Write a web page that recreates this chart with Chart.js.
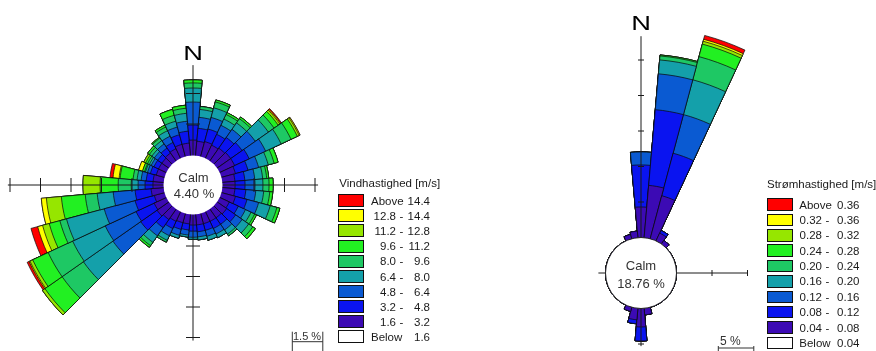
<!DOCTYPE html>
<html>
<head>
<meta charset="utf-8">
<script src="https://cdn.jsdelivr.net/npm/chart.js@4/dist/chart.umd.min.js"></script>
<style>
  html, body { margin: 0; padding: 0; background: #fff; }
  body { width: 876px; height: 351px; overflow: hidden; position: relative;
         font-family: 'Liberation Sans', Arial, sans-serif; }
  canvas { position: absolute; }
  #labels { position: absolute; left: 0; top: 0; width: 876px; height: 351px; }
  .t { position: absolute; white-space: pre; line-height: 1; }
  .box { position: absolute; box-sizing: border-box; border: 1px solid #111; }
</style>
</head>
<body>
<canvas id="wind" width="400" height="400" style="left:-7px;top:-15px"></canvas>
<canvas id="current" width="520" height="520" style="left:381px;top:13px"></canvas>
<div id="labels"></div>
<script>
// Direction sectors (degrees, clockwise from north), 10° each
const directions = [0, 10, 20, 30, 40, 50, 60, 70, 80, 90, 100, 110, 120, 130, 140, 150, 160, 170,
                    180, 190, 200, 210, 220, 230, 240, 250, 260, 270, 280, 290, 300, 310, 320, 330, 340, 350];

// Wind speed (m/s): class limits and frequency (%) per direction for each class
const windCalm = 4.40;
const windLimits = [1.6, 3.2, 4.8, 6.4, 8.0, 9.6, 11.2, 12.8, 14.4];
const wind_16_32 = [0.71,0.66,0.71,0.66,0.71,0.76,0.76,0.66,0.57,0.57,0.57,0.66,0.47,0.52,0.47,0.47,0.47,0.47,
                    0.47,0.42,0.42,0.47,0.57,0.66,0.61,0.47,0.57,0.47,0.47,0.37,0.37,0.37,0.42,0.47,0.57,0.57];
const wind_32_48 = [0.74,0.64,0.64,0.59,0.64,0.69,0.79,0.64,0.49,0.49,0.54,0.59,0.49,0.54,0.39,0.39,0.34,0.34,
                    0.30,0.30,0.34,0.39,0.49,0.98,0.98,0.98,0.79,0.39,0.34,0.30,0.25,0.25,0.30,0.34,0.49,0.59];
const wind_48_64 = [1.13,0.54,0.59,0.49,0.49,0.79,0.89,0.54,0.49,0.49,0.49,0.59,0.39,0.39,0.34,0.30,0.30,0.25,
                    0.30,0.25,0.30,0.39,0.49,1.67,1.67,1.57,1.08,0.34,0.25,0.15,0.15,0.20,0.25,0.34,0.39,0.49];
const wind_64_80 = [0.69,0.39,0.49,0.34,0.39,0.79,0.84,0.49,0.39,0.39,0.39,0.59,0.30,0.39,0.25,0.20,0.20,0.15,
                    0.10,0.10,0.15,0.25,0.39,1.77,1.77,1.92,0.79,0.34,0.20,0.10,0.10,0.15,0.20,0.30,0.30,0.39];
const wind_80_96 = [0.25,0.15,0.30,0.25,0.25,0.34,0.54,0.30,0.20,0.30,0.30,0.34,0.20,0.25,0.10,0,0,0,
                    0,0,0,0.10,0.20,1.28,1.33,0.34,0.59,0.64,0.20,0.05,0.10,0.15,0.15,0.20,0.30,0.25];
const wind_96_112 = [0.15,0,0.10,0.10,0.10,0.25,0.34,0.20,0.10,0.20,0.15,0.15,0.10,0.15,0,0,0,0,
                     0,0,0,0,0.10,1.03,0.84,0.54,1.18,0.89,0.64,0.10,0.10,0.10,0.05,0.10,0.30,0.15];
const wind_112_128 = [0,0,0,0,0,0.10,0.10,0,0,0,0,0,0,0,0,0,0,0,
                      0,0,0,0,0,0.15,0.15,0.34,0.74,0.84,0.05,0,0.10,0,0,0,0,0];
const wind_128_144 = [0,0,0,0,0,0.05,0.05,0,0,0,0,0,0,0,0,0,0,0,
                      0,0,0,0,0,0,0.05,0.25,0.25,0,0.30,0.20,0,0,0,0,0,0];
const wind_above_144 = [0,0,0,0,0,0.05,0,0,0,0,0,0,0,0,0,0,0,0,
                        0,0,0,0,0,0,0.10,0.34,0,0,0.15,0,0,0,0,0,0,0];

// Current speed (m/s): class limits and frequency (%) per direction for each class
const currentCalm = 18.76;
const currentLimits = [0.04, 0.08, 0.12, 0.16, 0.20, 0.24, 0.28, 0.32, 0.36];
const cur_004_008 = [4.30,7.39,6.27,1.20,0.60,0,0,0,0,0,0,0,0,0,0,0,0,0.92,
                     2.60,1.62,0.60,0,0,0,0,0,0,0,0,0,0,0,0,0,0.63,0.92];
const cur_008_012 = [5.92,10.70,6.20,0.42,0,0,0,0,0,0,0,0,0,0,0,0,0,0,
                     1.97,0.56,0,0,0,0,0,0,0,0,0,0,0,0,0,0,0,0];
const cur_012_016 = [1.83,5.07,5.63,0,0,0,0,0,0,0,0,0,0,0,0,0,0,0,
                     0,0,0,0,0,0,0,0,0,0,0,0,0,0,0,0,0,0];
const cur_016_020 = [0,1.97,5.07,0,0,0,0,0,0,0,0,0,0,0,0,0,0,0,
                     0,0,0,0,0,0,0,0,0,0,0,0,0,0,0,0,0,0];
const cur_020_024 = [0,0.56,3.38,0,0,0,0,0,0,0,0,0,0,0,0,0,0,0,
                     0,0,0,0,0,0,0,0,0,0,0,0,0,0,0,0,0,0];
const cur_024_028 = [0,0.14,1.83,0,0,0,0,0,0,0,0,0,0,0,0,0,0,0,
                     0,0,0,0,0,0,0,0,0,0,0,0,0,0,0,0,0,0];
const cur_028_032 = [0,0,0.42,0,0,0,0,0,0,0,0,0,0,0,0,0,0,0,
                     0,0,0,0,0,0,0,0,0,0,0,0,0,0,0,0,0,0];
const cur_032_036 = [0,0,0.28,0,0,0,0,0,0,0,0,0,0,0,0,0,0,0,
                     0,0,0,0,0,0,0,0,0,0,0,0,0,0,0,0,0,0];
const cur_above_036 = [0,0,0.56,0,0,0,0,0,0,0,0,0,0,0,0,0,0,0,
                       0,0,0,0,0,0,0,0,0,0,0,0,0,0,0,0,0,0];

// Colour per speed class, lowest ("Below") first
const classColours = ['#ffffff', '#3c0ab4', '#0a14f0', '#0a5ad2', '#14a0aa',
                      '#1ec864', '#22f022', '#96e600', '#ffff00', '#ff0000'];

const windSeries = [wind_16_32, wind_32_48, wind_48_64, wind_64_80, wind_80_96,
                    wind_96_112, wind_112_128, wind_128_144, wind_above_144];
const currentSeries = [cur_004_008, cur_008_012, cur_012_016, cur_016_020, cur_020_024,
                       cur_024_028, cur_028_032, cur_032_036, cur_above_036];

// Stack the classes: each dataset is the running total up to its class.
// Dataset 0 (innermost) is painted last, so the rings show as stacked bands.
function stackedDatasets(series) {
  let run = directions.map(() => 0);
  return series.map((s, c) => {
    run = run.map((v, i) => v + s[i]);
    return { data: run.slice(), backgroundColor: classColours[c + 1] };
  });
}

// Cross axes with tick marks, the calm circle and the scale bar
const roseDecor = {
  id: 'roseDecor',
  afterDatasetsDraw(chart, args, o) {
    const s = chart.scales.r, ctx = chart.ctx;
    const cx = s.xCenter, cy = s.yCenter;
    const dist = t => s.getDistanceFromCenterForValue(t * o.step - o.step);
    ctx.save();
    ctx.strokeStyle = '#1a1a1a';
    ctx.lineWidth = 1;
    const arms = [
      { dx: 0, dy: -1, ext: o.north, ticks: o.northTicks },
      { dx: 1, dy: 0, ext: o.east, ticks: o.eastTicks },
      { dx: 0, dy: 1, ext: o.south, ticks: o.southTicks },
      { dx: -1, dy: 0, ext: o.west, ticks: o.westTicks }
    ];
    arms.forEach(a => {
      const r = dist(a.ext);
      ctx.beginPath();
      ctx.moveTo(cx, cy);
      ctx.lineTo(cx + a.dx * r, cy + a.dy * r);
      ctx.stroke();
      a.ticks.forEach(t => {
        const d = dist(t);
        const px = cx + a.dx * d, py = cy + a.dy * d;
        ctx.beginPath();
        ctx.moveTo(px - a.dy * o.tickLen, py - a.dx * o.tickLen);
        ctx.lineTo(px + a.dy * o.tickLen, py + a.dx * o.tickLen);
        ctx.stroke();
      });
    });
    // calm circle
    ctx.beginPath();
    ctx.arc(cx, cy, dist(1) + o.calmPad, 0, Math.PI * 2);
    ctx.fillStyle = '#fff';
    ctx.fill();
    if (o.calmRing) { ctx.strokeStyle = '#222'; ctx.lineWidth = 1; ctx.stroke(); }
    // scale bar: one tick step long
    const len = dist(2) - dist(1);
    const bx = cx + o.bar.dx, by = cy + o.bar.dy;
    ctx.strokeStyle = '#333';
    ctx.lineWidth = 1;
    ctx.beginPath();
    ctx.moveTo(bx, by); ctx.lineTo(bx + len, by);
    ctx.moveTo(bx, by + o.bar.up); ctx.lineTo(bx, by + o.bar.down);
    ctx.moveTo(bx + len, by + o.bar.up); ctx.lineTo(bx + len, by + o.bar.down);
    ctx.stroke();
    ctx.restore();
  }
};

function rose(id, series, step, pxPerStep, decor) {
  const el = document.getElementById(id);
  const half = Math.floor(el.width / 2);
  return new Chart(el, {
    type: 'polarArea',
    data: { labels: directions.map(d => d + '°'), datasets: stackedDatasets(series) },
    options: {
      responsive: false,
      animation: false,
      events: [],
      layout: { padding: 0 },
      elements: { arc: { borderWidth: 0.8, borderColor: 'rgba(10,10,10,0.9)' } },
      plugins: { legend: { display: false }, tooltip: { enabled: false },
                 roseDecor: Object.assign({ step }, decor) },
      scales: {
        r: {
          min: -step,
          max: half / pxPerStep * step - step,
          startAngle: -5,
          grid: { display: false },
          angleLines: { display: false },
          ticks: { display: false },
          pointLabels: { display: false }
        }
      }
    },
    plugins: [roseDecor]
  });
}

rose('wind', windSeries, 1.5, 30.5, {
  north: 3.93, east: 4.1, south: 5.1, west: 6.07,
  northTicks: [2, 3], eastTicks: [2, 3, 4], southTicks: [2, 3, 4, 5], westTicks: [2, 3, 4, 5, 6],
  tickLen: 7, calmPad: -1, calmRing: false,
  bar: { dx: 99.3, dy: 156.7, up: -10, down: 12 }
});
rose('current', currentSeries, 5, 35.5, {
  north: 6.67, east: 3.0, south: 2.06, west: 1.2,
  northTicks: [2, 3, 4, 5, 6], eastTicks: [2, 3], southTicks: [2], westTicks: [],
  tickLen: 3, calmPad: 0, calmRing: true,
  bar: { dx: 77.3, dy: 75, up: -2, down: 4 }
});

// ---- text ----
const layer = document.getElementById('labels');
function label(text, x, baseline, size, align, color, extra) {
  const d = document.createElement('div');
  d.className = 't';
  d.textContent = text;
  d.style.fontSize = size + 'px';
  d.style.left = x + 'px';
  d.style.top = (baseline - 0.8465 * size) + 'px';
  d.style.color = color || '#1a1a1a';
  const shift = align === 'right' ? '-100%' : align === 'center' ? '-50%' : '0';
  d.style.transform = 'translateX(' + shift + ')' + (extra || '');
  layer.appendChild(d);
}
function box(x, y, w, h, colour) {
  const d = document.createElement('div');
  d.className = 'box';
  Object.assign(d.style, { left: x + 'px', top: y + 'px', width: w + 'px', height: h + 'px', background: colour });
  layer.appendChild(d);
}

function legend(title, limits, digits, L) {
  label(title, L.titleX, L.titleBase, 11.5, 'left');
  const n = limits.length;
  for (let row = 0; row <= n; row++) {
    const cls = n - row;
    const top = L.boxTop + row * L.step;
    box(L.boxX, top, 26, L.boxH, classColours[cls]);
    const base = top + L.textOff;
    if (cls === n) {
      label('Above', L.wordX, base, 11.5, 'left');
      label(limits[n - 1].toFixed(digits), L.highX, base, 11.5, 'right');
    } else if (cls === 0) {
      label('Below', L.wordX, base, 11.5, 'left');
      label(limits[0].toFixed(digits), L.highX, base, 11.5, 'right');
    } else {
      label(limits[cls - 1].toFixed(digits), L.lowX, base, 11.5, 'right');
      label('-', L.dashX, base, 11.5, 'center');
      label(limits[cls].toFixed(digits), L.highX, base, 11.5, 'right');
    }
  }
}

// wind rose labels
label('N', 193, 60, 21, 'center', '#000', ' scaleX(1.3)');
label('Calm', 193.5, 181.7, 13, 'center', '#333');
label(windCalm.toFixed(2) + ' %', 194, 198.3, 13, 'center', '#333');
label('1.5 %', 293, 340, 11, 'left', '#333');
legend('Vindhastighed [m/s]', windLimits, 1, {
  titleX: 339.3, titleBase: 187.5, boxX: 338, boxTop: 194.3, step: 15.08, boxH: 13,
  textOff: 11.6, wordX: 371, lowX: 396, dashX: 401.5, highX: 430
});

// current rose labels
label('N', 641, 30, 21, 'center', '#000', ' scaleX(1.3)');
label('Calm', 641, 270, 13, 'center', '#333');
label(currentCalm.toFixed(2) + ' %', 641, 287.7, 13, 'center', '#333');
label('5 %', 720, 345, 12, 'left', '#333');
legend('Strømhastighed [m/s]', currentLimits, 2, {
  titleX: 767, titleBase: 188.5, boxX: 767, boxTop: 198.3, step: 15.38, boxH: 12.5,
  textOff: 11, wordX: 799.3, lowX: 822, dashX: 827.5, highX: 859.5
});
</script>
</body>
</html>
